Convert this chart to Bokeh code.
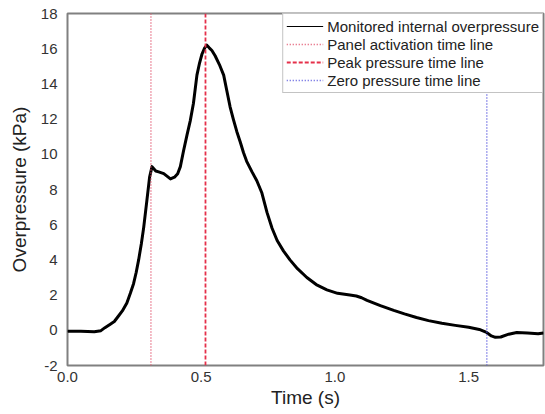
from bokeh.plotting import figure
from bokeh.models import (Range1d, FixedTicker, NumeralTickFormatter, PrintfTickFormatter,
                          Legend, LegendItem)
from bokeh.embed import file_html
from bokeh.resources import INLINE

# Monitored internal overpressure
time_s = [0.00, 0.05, 0.10, 0.125, 0.14, 0.16, 0.175, 0.19, 0.205, 0.222, 0.235, 0.247,
          0.257, 0.266, 0.276, 0.285, 0.297, 0.307, 0.316, 0.33, 0.341, 0.36, 0.385, 0.40,
          0.412, 0.422, 0.434, 0.447, 0.459, 0.471, 0.484, 0.494, 0.503, 0.513, 0.521, 0.53,
          0.54, 0.552, 0.568, 0.584, 0.596, 0.608, 0.62, 0.633, 0.646, 0.658, 0.67, 0.69,
          0.708, 0.727, 0.746, 0.765, 0.784, 0.808, 0.832, 0.86, 0.895, 0.93, 0.97, 1.01,
          1.056, 1.08, 1.10, 1.12, 1.17, 1.22, 1.26, 1.305, 1.35, 1.40, 1.45, 1.50,
          1.54, 1.567, 1.585, 1.60, 1.62, 1.65, 1.68, 1.72, 1.76, 1.78]
overpressure_kpa = [-0.05, -0.05, -0.08, -0.02, 0.15, 0.35, 0.50, 0.80, 1.10, 1.55, 2.10, 2.65,
                    3.30, 4.00, 4.90, 5.85, 7.40, 8.70, 9.30, 9.05, 9.00, 8.90, 8.60, 8.70,
                    8.90, 9.30, 10.20, 11.10, 11.90, 12.90, 14.50, 15.20, 15.70, 16.05, 16.20, 16.05,
                    15.90, 15.60, 15.10, 14.50, 13.60, 12.70, 12.00, 11.30, 10.70, 10.10, 9.60, 9.00,
                    8.50, 7.80, 6.70, 5.80, 5.10, 4.50, 4.00, 3.50, 3.00, 2.60, 2.30, 2.10,
                    2.00, 1.95, 1.85, 1.70, 1.40, 1.13, 0.93, 0.73, 0.55, 0.40, 0.28, 0.17,
                    0.05, -0.12, -0.32, -0.40, -0.38, -0.22, -0.12, -0.15, -0.20, -0.15]

panel_activation_time = 0.312
peak_pressure_time = 0.516
zero_pressure_time = 1.568

x_ticks = [0.0, 0.5, 1.0, 1.5]
y_ticks = [-2, 0, 2, 4, 6, 8, 10, 12, 14, 16, 18]
x_min, x_max = 0.0, 1.78
y_min, y_max = -2, 18

FONT = "Liberation Sans"

p = figure(width=545, height=414, output_backend="svg", toolbar_location=None,
           x_range=Range1d(x_min, x_max), y_range=Range1d(y_min, y_max),
           min_border_left=67, min_border_right=2, min_border_top=13, min_border_bottom=49)

# thin copy used for the legend swatch, hidden underneath the thick trace
r_thin = p.line(time_s, overpressure_kpa, line_color="black", line_width=1)
r_curve = p.line(time_s, overpressure_kpa, line_color="black", line_width=3, line_join="round")
r_panel = p.line([panel_activation_time, panel_activation_time], [y_min, y_max],
                 line_color="#E0506A", line_width=1.5, line_dash="1 2")
r_peak = p.line([peak_pressure_time, peak_pressure_time], [y_min, y_max],
                line_color="#E5304A", line_width=1.8, line_dash="4 2")
r_zero = p.line([zero_pressure_time, zero_pressure_time], [y_min, y_max],
                line_color="#5555DD", line_width=1.5, line_dash="1 2")

p.xgrid.visible = False
p.ygrid.visible = False
p.outline_line_color = "#808080"
p.outline_line_width = 2

for ax in (p.xaxis[0], p.yaxis[0]):
    ax.axis_line_color = None
    ax.major_tick_line_color = None
    ax.minor_tick_line_color = None
    ax.major_tick_out = 0
    ax.major_tick_in = 0
    ax.minor_tick_out = 0
    ax.major_label_text_font = FONT
    ax.major_label_text_font_size = "15px"
    ax.major_label_text_color = "#333333"
    ax.axis_label_text_font = FONT
    ax.axis_label_text_font_size = "19px"
    ax.axis_label_text_font_style = "normal"
    ax.axis_label_text_color = "#222222"

p.xaxis.ticker = FixedTicker(ticks=x_ticks)
p.yaxis.ticker = FixedTicker(ticks=y_ticks)
p.xaxis.formatter = NumeralTickFormatter(format="0.0")
p.yaxis.formatter = PrintfTickFormatter(format="%d")
p.xaxis.axis_label = "Time (s)"
p.yaxis.axis_label = "Overpressure (kPa)"
p.xaxis.major_label_standoff = 6
p.yaxis.major_label_standoff = 10
p.xaxis.axis_label_standoff = 2
p.yaxis.axis_label_standoff = 8

lg = Legend(items=[
    LegendItem(label="Monitored internal overpressure", renderers=[r_thin]),
    LegendItem(label="Panel activation time line", renderers=[r_panel]),
    LegendItem(label="Peak pressure time line", renderers=[r_peak]),
    LegendItem(label="Zero pressure time line", renderers=[r_zero]),
])
lg.location = "top_right"
lg.margin = 0
lg.padding = 3
lg.spacing = 0
lg.border_line_color = "#888888"
lg.border_line_width = 1
lg.label_text_font = FONT
lg.label_text_font_size = "15px"
lg.label_text_color = "#222222"
lg.glyph_width = 37
lg.glyph_height = 18
lg.label_height = 18
lg.label_standoff = 4
lg.background_fill_alpha = 1
p.add_layout(lg, "center")

open("out.html", "w").write(file_html(p, INLINE))
